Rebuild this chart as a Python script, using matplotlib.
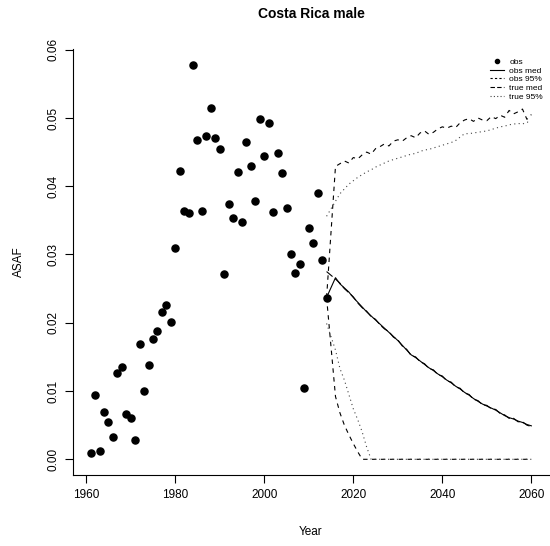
import matplotlib
matplotlib.use("Agg")
import matplotlib.pyplot as plt
from matplotlib.lines import Line2D

# Observed ASAF values, 1961-2014
obs_years = list(range(1961, 2015))
obs_values = [
    0.0009, 0.0094, 0.0012, 0.0069, 0.0054, 0.0033, 0.0127, 0.0135, 0.0066, 0.0061,
    0.0028, 0.0169, 0.0100, 0.0138, 0.0176, 0.0188, 0.0216, 0.0226, 0.0201, 0.0310,
    0.0423, 0.0364, 0.0361, 0.0578, 0.0468, 0.0363, 0.0474, 0.0514, 0.0470, 0.0454,
    0.0272, 0.0374, 0.0354, 0.0421, 0.0348, 0.0465, 0.0429, 0.0379, 0.0499, 0.0445,
    0.0492, 0.0362, 0.0449, 0.0420, 0.0368, 0.0301, 0.0273, 0.0286, 0.0105, 0.0339,
    0.0317, 0.0390, 0.0292, 0.0237,
]

# Projection years (start at last observed year)
proj_years = [2014] + list(range(2016, 2061))

obs_med = [
    0.0237,
    0.0266, 0.0257, 0.0251, 0.0245, 0.0237, 0.0230, 0.0223, 0.0216, 0.0210, 0.0204,
    0.0198, 0.0192, 0.0186, 0.0180, 0.0174, 0.0167, 0.0160, 0.0153, 0.0149, 0.0144,
    0.0139, 0.0134, 0.0130, 0.0125, 0.0121, 0.0116, 0.0112, 0.0107, 0.0103, 0.0098,
    0.0094, 0.0089, 0.0085, 0.0081, 0.0078, 0.0075, 0.0072, 0.0068, 0.0064, 0.0061,
    0.0059, 0.0056, 0.0054, 0.0051, 0.0049,
]

obs_upper = [
    0.0237,
    0.0429, 0.0433, 0.0437, 0.0434, 0.0442, 0.0440, 0.0446, 0.0450, 0.0447, 0.0455,
    0.0458, 0.0462, 0.0459, 0.0466, 0.0468, 0.0466, 0.0471, 0.0474, 0.0471, 0.0478,
    0.0481, 0.0476, 0.0479, 0.0484, 0.0487, 0.0485, 0.0488, 0.0486, 0.0493, 0.0497,
    0.0499, 0.0495, 0.0500, 0.0497, 0.0496, 0.0502, 0.0499, 0.0504, 0.0501, 0.0511,
    0.0506, 0.0509, 0.0513, 0.0498, 0.0505,
]

obs_lower = [
    0.0237,
    0.0092, 0.0068, 0.0050, 0.0036, 0.0023, 0.0011, 0.0000, 0.0000, 0.0000, 0.0000,
    0.0000, 0.0000, 0.0000, 0.0000, 0.0000, 0.0000, 0.0000, 0.0000, 0.0000, 0.0000,
    0.0000, 0.0000, 0.0000, 0.0000, 0.0000, 0.0000, 0.0000, 0.0000, 0.0000, 0.0000,
    0.0000, 0.0000, 0.0000, 0.0000, 0.0000, 0.0000, 0.0000, 0.0000, 0.0000, 0.0000,
    0.0000, 0.0000, 0.0000, 0.0000, 0.0000,
]

true_med = [
    0.0275,
    0.0264, 0.0258, 0.0250, 0.0244, 0.0238, 0.0229, 0.0222, 0.0217, 0.0209, 0.0205,
    0.0197, 0.0191, 0.0187, 0.0179, 0.0175, 0.0166, 0.0161, 0.0152, 0.0150, 0.0143,
    0.0140, 0.0133, 0.0131, 0.0124, 0.0122, 0.0115, 0.0113, 0.0106, 0.0104, 0.0097,
    0.0095, 0.0088, 0.0086, 0.0080, 0.0079, 0.0074, 0.0073, 0.0067, 0.0065, 0.0060,
    0.0060, 0.0055, 0.0055, 0.0050, 0.0048,
]

true_upper = [
    0.0356,
    0.0378, 0.0389, 0.0396, 0.0403, 0.0408, 0.0413, 0.0417, 0.0421, 0.0424, 0.0428,
    0.0431, 0.0434, 0.0437, 0.0439, 0.0441, 0.0443, 0.0445, 0.0447, 0.0448, 0.0451,
    0.0453, 0.0454, 0.0456, 0.0458, 0.0460, 0.0462, 0.0464, 0.0467, 0.0472, 0.0477,
    0.0477, 0.0478, 0.0479, 0.0480, 0.0481, 0.0483, 0.0485, 0.0487, 0.0488, 0.0490,
    0.0491, 0.0492, 0.0491, 0.0494, 0.0493,
]

true_lower = [
    0.0199,
    0.0160, 0.0133, 0.0116, 0.0095, 0.0074, 0.0058, 0.0040, 0.0018, 0.0000, 0.0000,
    0.0000, 0.0000, 0.0000, 0.0000, 0.0000, 0.0000, 0.0000, 0.0000, 0.0000, 0.0000,
    0.0000, 0.0000, 0.0000, 0.0000, 0.0000, 0.0000, 0.0000, 0.0000, 0.0000, 0.0000,
    0.0000, 0.0000, 0.0000, 0.0000, 0.0000, 0.0000, 0.0000, 0.0000, 0.0000, 0.0000,
    0.0000, 0.0000, 0.0000, 0.0000, 0.0000,
]

x_ticks = [1960, 1980, 2000, 2020, 2040, 2060]
y_ticks = [0.00, 0.01, 0.02, 0.03, 0.04, 0.05, 0.06]
y_labels = ["0.00", "0.01", "0.02", "0.03", "0.04", "0.05", "0.06"]

plt.rcParams["font.family"] = ["Liberation Sans", "DejaVu Sans"]

fig = plt.figure(figsize=(5.5, 5.46), dpi=100)
ax = fig.add_axes([73 / 550, 1 - 475 / 546, 476 / 550, 426 / 546])

lw = 0.8
short_dash = (0, (4, 4))
long_dash = (0, (7, 3))
dots = (0, (1, 3))

# observed points
ax.scatter(obs_years, obs_values, s=26, color="black", zorder=3)

# projections
ax.plot(proj_years, obs_med, color="black", lw=lw, linestyle="-")
ax.plot(proj_years, obs_upper, color="black", lw=lw, linestyle=short_dash)
ax.plot(proj_years, obs_lower, color="black", lw=lw, linestyle=short_dash)
ax.plot(proj_years, true_med, color="black", lw=lw, linestyle=long_dash)
ax.plot(proj_years, true_upper, color="#444444", lw=lw, linestyle=dots)
ax.plot(proj_years, true_lower, color="#444444", lw=lw, linestyle=dots)

ax.set_xlim(1957.04, 2063.96)
ax.set_ylim(-0.0023, 0.0601)

ax.set_xticks(x_ticks)
ax.set_xticklabels([str(t) for t in x_ticks], fontsize=8.5)
ax.set_yticks(y_ticks)
ax.set_yticklabels(y_labels, fontsize=8.5, rotation=90, va="center")
ax.tick_params(direction="out", length=6, width=0.8, pad=4)

ax.spines["top"].set_visible(False)
ax.spines["right"].set_visible(False)
ax.spines["left"].set_linewidth(0.8)
ax.spines["bottom"].set_linewidth(0.8)

ax.set_xlabel("Year", fontsize=8.5, labelpad=18)
ax.set_ylabel("ASAF", fontsize=8.5, labelpad=16)
ax.set_title("Costa Rica male", fontsize=10, fontweight="bold", pad=22)

# legend (small, no frame, top right)
handles = [
    Line2D([], [], color="black", marker="o", markersize=3, linestyle="none"),
    Line2D([], [], color="black", lw=lw, linestyle="-"),
    Line2D([], [], color="black", lw=lw, linestyle=(0, (2, 2))),
    Line2D([], [], color="black", lw=lw, linestyle=(0, (4, 2))),
    Line2D([], [], color="#444444", lw=lw, linestyle=(0, (1, 2))),
]
labels = ["obs", "obs med", "obs 95%", "true med", "true 95%"]
fig.legend(handles, labels, loc="upper left", bbox_to_anchor=(486 / 550, 1 - 54 / 546),
           frameon=False, fontsize=6, handlelength=1.7, handletextpad=0.6,
           labelspacing=0.1, borderpad=0)

fig.savefig("out.png", dpi=100)
